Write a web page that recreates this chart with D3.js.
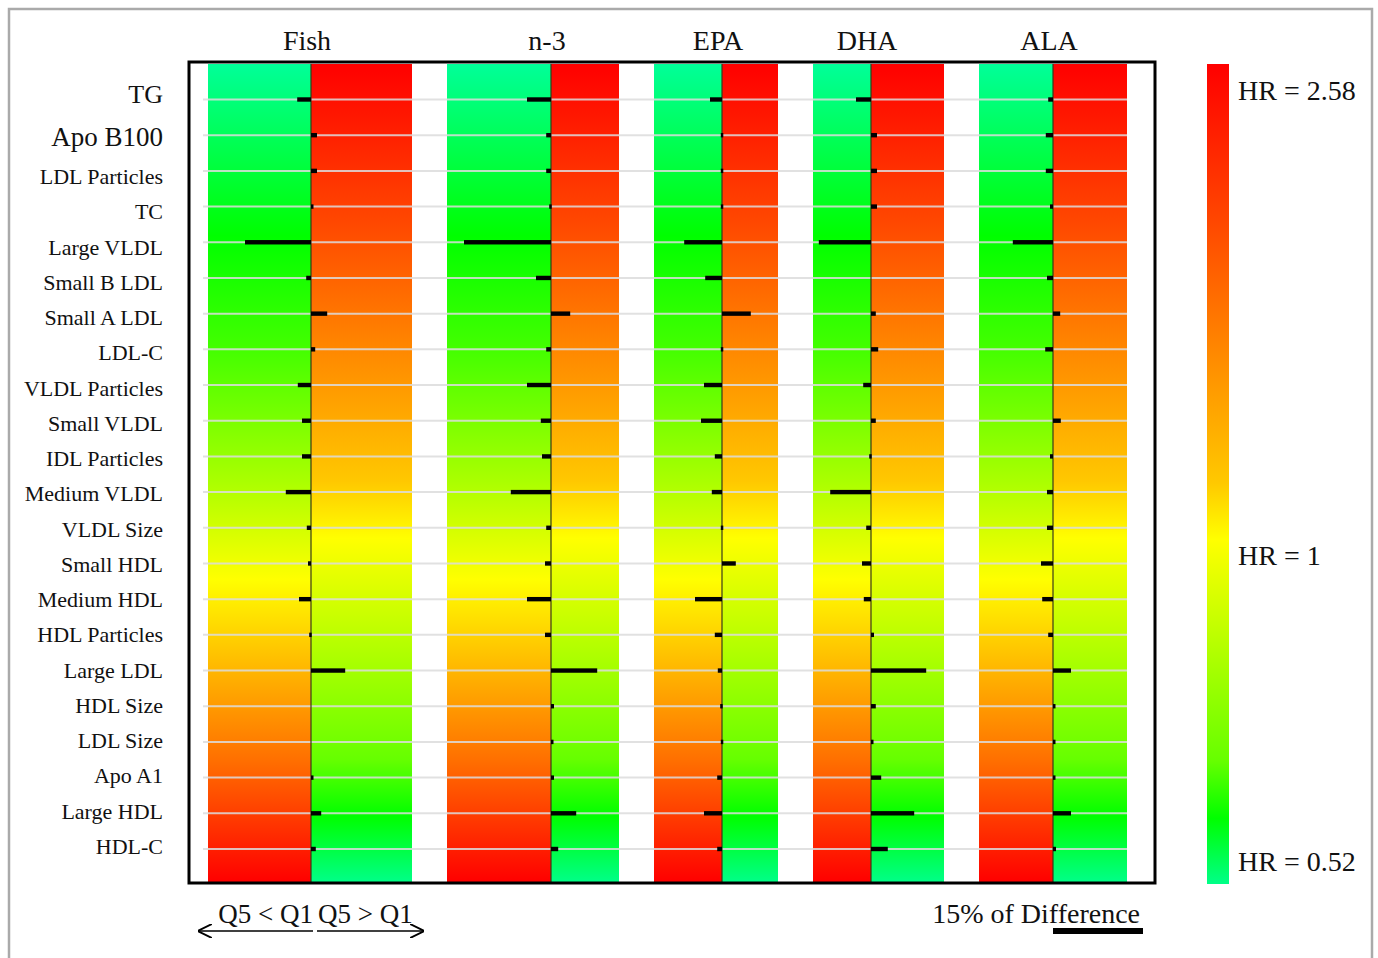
<!DOCTYPE html>
<html>
<head>
<meta charset="utf-8">
<script src="https://cdn.jsdelivr.net/npm/d3@7"></script>
<style>
  body { margin: 0; background: #fff; }
  text { font-family: "Liberation Serif", "Times New Roman", serif; fill: #111; }
</style>
</head>
<body>
<div id="wrapper"></div>
<script>

// 1. Data

const rows = ["TG", "Apo B100", "LDL Particles", "TC", "Large VLDL", "Small B LDL", "Small A LDL",
  "LDL-C", "VLDL Particles", "Small VLDL", "IDL Particles", "Medium VLDL", "VLDL Size", "Small HDL",
  "Medium HDL", "HDL Particles", "Large LDL", "HDL Size", "LDL Size", "Apo A1", "Large HDL", "HDL-C"]

const groups = ["Fish", "n-3", "EPA", "DHA", "ALA"]

// % difference (negative: Q5 < Q1, positive: Q5 > Q1)
const fishDiff = [-2.3, 1.0, 1.0, 0.3, -11.0, -0.8, 2.7, 0.7, -2.2, -1.5, -1.5, -4.2, -0.7, -0.5, -2.0, -0.3, 5.7, 0, 0, 0.2, 1.7, 0.8]
const n3Diff = [-4.0, -0.8, -0.8, -0.3, -14.5, -2.5, 3.2, -0.8, -4.0, -1.7, -1.5, -6.7, -0.8, -1.0, -4.0, -1.0, 7.7, 0.5, 0.2, 0.5, 4.2, 1.2]
const epaDiff = [-2.0, -0.2, -0.2, -0.2, -6.3, -2.8, 4.8, -0.2, -3.0, -3.5, -1.2, -1.7, -0.2, 2.3, -4.5, -1.2, -0.7, -0.3, -0.2, -0.8, -3.0, -0.8]
const dhaDiff = [-2.5, 1.0, 1.0, 1.0, -8.7, 0, 0.8, 1.2, -1.3, 0.8, -0.3, -6.8, -0.8, -1.5, -1.2, 0.5, 9.2, 0.8, 0.3, 1.7, 7.2, 2.8]
const alaDiff = [-0.8, -1.2, -1.2, -0.5, -6.7, -1.0, 1.2, -1.3, 0, 1.3, -0.5, -1.0, -1.0, -2.0, -1.8, -0.8, 3.0, 0.3, 0.2, 0.2, 3.0, 0.5]
const diffs = [fishDiff, n3Diff, epaDiff, dhaDiff, alaDiff]

const hrTicks = [2.58, 1, 0.52]
const scaleBarPct = 15

// colour ramps (top to bottom)
const leftStops = [[0, "#00ff99"], [0.21, "#00ff00"], [0.35, "#44ff00"], [0.51, "#aaff00"],
  [0.63, "#ffff00"], [0.75, "#ffb000"], [0.85, "#ff7000"], [1, "#ff0000"]]
const rightStops = [[0, "#ff0000"], [0.2, "#ff4a00"], [0.35, "#ff8800"], [0.51, "#ffc800"],
  [0.58, "#ffff00"], [0.7, "#bbff00"], [0.85, "#66ff00"], [0.92, "#00ff00"], [1, "#00ff88"]]

// 2. Dimensions

const dimensions = {
  width: 1378,
  height: 958,
  frame: { left: 189, top: 62, right: 1155, bottom: 883 },
  colTop: 64,
  colBottom: 882,
  firstCol: 208,
  gap: 35,
}
// column widths (left, right) per group
const colWidths = [[103, 101], [104, 68], [68, 56], [58, 73], [74, 74]]

let cursor = dimensions.firstCol
const cols = groups.map((g, i) => {
  const c = { name: g, i, x0: cursor, xm: cursor + colWidths[i][0] }
  c.x1 = c.xm + colWidths[i][1]
  cursor = c.x1 + dimensions.gap
  return c
})

// 3. Canvas

const svg = d3.select("#wrapper").append("svg")
  .attr("width", dimensions.width)
  .attr("height", dimensions.height)

const defs = svg.append("defs")

const addGradient = (id, stops) => {
  const g = defs.append("linearGradient")
    .attr("id", id)
    .attr("x1", 0).attr("y1", 0).attr("x2", 0).attr("y2", 1)
  g.selectAll("stop").data(stops).join("stop")
    .attr("offset", d => d[0])
    .attr("stop-color", d => d[1])
}
addGradient("gradLeft", leftStops)
addGradient("gradRight", rightStops)

// page border
svg.append("rect")
  .attr("x", 9).attr("y", 9)
  .attr("width", 1363).attr("height", 970)
  .attr("fill", "none")
  .attr("stroke", "#aaa")
  .attr("stroke-width", 2.5)

// 4. Scales

const yScale = d3.scalePoint()
  .domain(rows)
  .range([99.5, 849])

// labels sit on their own slightly tighter spacing
const labelScale = d3.scalePoint()
  .domain(rows)
  .range([106.5, 847])

const barScale = d3.scaleLinear()
  .domain([-15, 15])
  .range([-90, 90])

const hrScale = d3.scaleLog()
  .domain([2.58, 0.52])
  .range([dimensions.colTop, dimensions.colBottom + 2])

// 5. Draw data

const colLayer = svg.append("g")

colLayer.selectAll(".left").data(cols).join("rect")
  .attr("x", d => d.x0)
  .attr("y", dimensions.colTop)
  .attr("width", d => d.xm - d.x0)
  .attr("height", dimensions.colBottom - dimensions.colTop)
  .attr("fill", "url(#gradLeft)")

colLayer.selectAll(".right").data(cols).join("rect")
  .attr("x", d => d.xm)
  .attr("y", dimensions.colTop)
  .attr("width", d => d.x1 - d.xm)
  .attr("height", dimensions.colBottom - dimensions.colTop)
  .attr("fill", "url(#gradRight)")

// grid lines
svg.append("g").selectAll("line").data(rows).join("line")
  .attr("x1", 203)
  .attr("x2", cols[cols.length - 1].x1)
  .attr("y1", d => yScale(d))
  .attr("y2", d => yScale(d))
  .attr("stroke", "#dcdcdc")
  .attr("stroke-opacity", 0.85)
  .attr("stroke-width", 2)

// dividers
svg.append("g").selectAll("line").data(cols).join("line")
  .attr("x1", d => d.xm).attr("x2", d => d.xm)
  .attr("y1", dimensions.colTop).attr("y2", dimensions.colBottom)
  .attr("stroke", "#3a3a1a")
  .attr("stroke-width", 1.2)

// difference bars
const barData = cols.flatMap(c => rows.map((r, j) => ({ col: c, row: r, v: diffs[c.i][j] })))
svg.append("g").selectAll("rect").data(barData.filter(d => d.v !== 0)).join("rect")
  .attr("x", d => d.col.xm + Math.min(0, barScale(d.v)))
  .attr("y", d => yScale(d.row) - 2.2)
  .attr("width", d => Math.max(2.5, Math.abs(barScale(d.v) - barScale(0))))
  .attr("height", 4.4)
  .attr("fill", "#000")

// frame
svg.append("rect")
  .attr("x", dimensions.frame.left)
  .attr("y", dimensions.frame.top)
  .attr("width", dimensions.frame.right - dimensions.frame.left)
  .attr("height", dimensions.frame.bottom - dimensions.frame.top)
  .attr("fill", "none")
  .attr("stroke", "#000")
  .attr("stroke-width", 3)

// 6. Peripherals

// group headers
svg.append("g").selectAll("text").data(cols).join("text")
  .attr("x", d => d.xm - 4)
  .attr("y", 50)
  .attr("text-anchor", "middle")
  .style("font-size", "28px")
  .text(d => d.name)

// row labels
const labelStyle = { "TG": [26, -11], "Apo B100": [27, -3] }
svg.append("g").selectAll("text").data(rows).join("text")
  .attr("x", 163)
  .attr("y", d => labelScale(d) + (labelStyle[d] ? labelStyle[d][1] : 0) + 7)
  .attr("text-anchor", "end")
  .style("font-size", d => (labelStyle[d] ? labelStyle[d][0] : 22) + "px")
  .text(d => d)

// colour bar
const cbar = svg.append("g")
cbar.append("rect")
  .attr("x", 1207).attr("y", dimensions.colTop)
  .attr("width", 22).attr("height", dimensions.colBottom + 2 - dimensions.colTop)
  .attr("fill", "url(#gradRight)")

cbar.selectAll("text").data(hrTicks).join("text")
  .attr("x", 1238)
  .attr("y", d => Math.max(dimensions.colTop + 26, Math.min(dimensions.colBottom - 21, hrScale(d) + 6)) + 10)
  .style("font-size", "28px")
  .text(d => `HR = ${d}`)

// bottom legend: direction arrows
const leg = svg.append("g")
leg.append("text")
  .attr("x", 313).attr("y", 923)
  .attr("text-anchor", "end")
  .style("font-size", "27px")
  .text("Q5 < Q1")
leg.append("text")
  .attr("x", 318).attr("y", 923)
  .style("font-size", "27px")
  .text("Q5 > Q1")

defs.append("marker")
  .attr("id", "arrowHead")
  .attr("viewBox", "0 -6 12 12")
  .attr("refX", 11).attr("refY", 0)
  .attr("markerWidth", 14).attr("markerHeight", 14)
  .attr("markerUnits", "userSpaceOnUse")
  .attr("orient", "auto")
  .append("path")
  .attr("d", "M0,-6L12,0L0,6")
  .attr("fill", "none")
  .attr("stroke", "#000")
  .attr("stroke-width", 1.6)

leg.append("line")
  .attr("x1", 313).attr("x2", 199)
  .attr("y1", 931).attr("y2", 931)
  .attr("stroke", "#000").attr("stroke-width", 1.6)
  .attr("marker-end", "url(#arrowHead)")
leg.append("line")
  .attr("x1", 317).attr("x2", 423)
  .attr("y1", 931).attr("y2", 931)
  .attr("stroke", "#000").attr("stroke-width", 1.6)
  .attr("marker-end", "url(#arrowHead)")

// scale bar
leg.append("text")
  .attr("x", 1140).attr("y", 923)
  .attr("text-anchor", "end")
  .style("font-size", "28px")
  .text(`${scaleBarPct}% of Difference`)
leg.append("rect")
  .attr("x", 1143 - (barScale(scaleBarPct) - barScale(0)))
  .attr("y", 928)
  .attr("width", barScale(scaleBarPct) - barScale(0))
  .attr("height", 6)
  .attr("fill", "#000")

</script>
</body>
</html>
